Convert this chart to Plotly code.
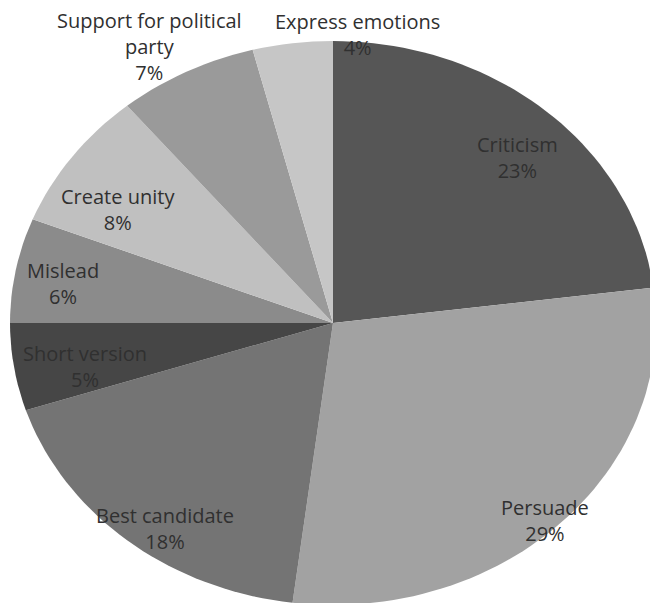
import math
import plotly.graph_objects as go

# ---- data ----
categories = ["Criticism", "Persuade", "Best candidate", "Short version",
              "Mislead", "Create unity", "Support for political<br>party", "Express emotions"]
values = [23, 29, 18, 5, 6, 8, 7, 4]
colors = ["#565656", "#a2a2a2", "#747474", "#464646",
          "#8b8b8b", "#c0c0c0", "#9a9a9a", "#c6c6c6"]

# label block centres (pixels in the 650x603 canvas)
label_px = [(517, 157), (545, 520), (165, 528), (85, 366),
            (63, 283), (118, 210), (149, 47), (357, 35)]

W, H = 650, 603
CX, CY, RX, RY = 333, 323, 323, 282  # ellipse geometry in pixels

fig = go.Figure()
total = sum(values)
cum = 0.0
for name, v, c in zip(categories, values, colors):
    a0 = cum / total * 2 * math.pi
    cum += v
    a1 = cum / total * 2 * math.pi
    n = max(8, int(200 * v / total))
    xs, ys = [0.0], [0.0]
    for i in range(n + 1):
        a = a0 + (a1 - a0) * i / n
        xs.append(math.sin(a))
        ys.append(math.cos(a))
    xs.append(0.0)
    ys.append(0.0)
    fig.add_trace(go.Scatter(x=xs, y=ys, mode="lines", fill="toself",
                             fillcolor=c, line=dict(width=0, color=c),
                             hoverinfo="skip", showlegend=False, name=name))

for name, v, (px, py) in zip(categories, values, label_px):
    fig.add_annotation(x=px / W, y=1 - py / H, xref="paper", yref="paper",
                       text=f"{name}<br>{v}%", showarrow=False,
                       font=dict(family="Open Sans", size=20, color="#303030"),
                       xanchor="center", yanchor="middle", align="center")

fig.update_layout(
    width=W, height=H, margin=dict(l=0, r=0, t=0, b=0),
    paper_bgcolor="white", plot_bgcolor="white",
    xaxis=dict(range=[-CX / RX, (W - CX) / RX], visible=False, fixedrange=True),
    yaxis=dict(range=[-(H - CY) / RY, CY / RY], visible=False, fixedrange=True),
)
fig.write_html("out.html", config={"displayModeBar": False},
               post_script="document.body.style.margin='0';document.body.style.overflow='hidden';")
